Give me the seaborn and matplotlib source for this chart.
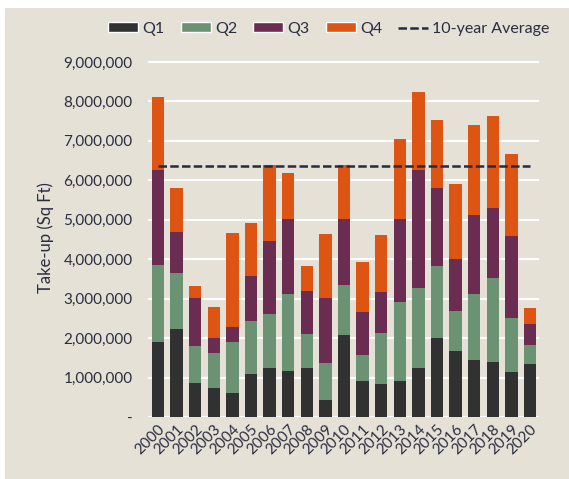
import matplotlib
matplotlib.use("Agg")
import matplotlib.pyplot as plt
from matplotlib.patches import Rectangle, Patch
from matplotlib.lines import Line2D
import seaborn as sns
import pandas as pd

# Take-up by quarter (sq ft)
years = [str(y) for y in range(2000, 2021)]
q1 = [1.91e6, 2.23e6, 0.87e6, 0.74e6, 0.62e6, 1.08e6, 1.23e6, 1.17e6, 1.25e6, 0.43e6, 2.09e6,
      0.92e6, 0.83e6, 0.92e6, 1.25e6, 1.99e6, 1.67e6, 1.45e6, 1.40e6, 1.14e6, 1.35e6]
q2 = [1.95e6, 1.43e6, 0.94e6, 0.89e6, 1.28e6, 1.36e6, 1.38e6, 1.96e6, 0.85e6, 0.93e6, 1.25e6,
      0.65e6, 1.29e6, 2.00e6, 2.03e6, 1.83e6, 1.02e6, 1.67e6, 2.12e6, 1.37e6, 0.48e6]
q3 = [2.39e6, 1.04e6, 1.20e6, 0.38e6, 0.37e6, 1.13e6, 1.86e6, 1.90e6, 1.09e6, 1.65e6, 1.68e6,
      1.10e6, 1.06e6, 2.09e6, 2.97e6, 1.99e6, 1.32e6, 2.01e6, 1.77e6, 2.09e6, 0.54e6]
q4 = [1.85e6, 1.10e6, 0.32e6, 0.79e6, 2.40e6, 1.35e6, 1.92e6, 1.16e6, 0.63e6, 1.64e6, 1.37e6,
      1.27e6, 1.43e6, 2.04e6, 1.98e6, 1.72e6, 1.90e6, 2.28e6, 2.34e6, 2.07e6, 0.40e6]
avg_10yr = 6.35e6

ytick_vals = list(range(0, 9000001, 1000000))
ytick_labels = ["-"] + [f"{v:,}" for v in ytick_vals[1:]]

colors = {"Q1": "#313131", "Q2": "#6B9273", "Q3": "#6A2C50", "Q4": "#DE5412"}
bg = "#E5E1D6"
text_col = "#2B2D3F"
avg_col = "#262A3E"

df = pd.DataFrame({"Year": years, "Q1": q1, "Q2": q2, "Q3": q3, "Q4": q4})
df["c2"] = df["Q1"] + df["Q2"]
df["c3"] = df["c2"] + df["Q3"]
df["c4"] = df["c3"] + df["Q4"]

sns.set_theme(style="whitegrid")
plt.rcParams["font.family"] = ["Lato", "DejaVu Sans"]
plt.rcParams["text.color"] = text_col

fig = plt.figure(figsize=(5.69, 4.79), dpi=100, facecolor=bg)
# thin white strips on the left and top edges
fig.add_artist(Rectangle((0, 0), 5 / 569, 1, transform=fig.transFigure,
                         facecolor="white", edgecolor="none", zorder=-10))
fig.add_artist(Rectangle((0, 1 - 8 / 479), 1, 8 / 479, transform=fig.transFigure,
                         facecolor="white", edgecolor="none", zorder=-10))
ax = fig.add_axes([148 / 569, 1 - 417 / 479, (539 - 148) / 569, (417 - 58) / 479])
ax.set_facecolor(bg)

# stacked bars: draw cumulative totals from top down
for col, q in [("c4", "Q4"), ("c3", "Q3"), ("c2", "Q2"), ("Q1", "Q1")]:
    sns.barplot(data=df, x="Year", y=col, color=colors[q], width=0.67,
                saturation=1, ax=ax, zorder=3, edgecolor="none")

ax.hlines(avg_10yr, 0, len(years) - 1, colors=avg_col, linestyles=(0, (3.4, 1.3)),
          linewidth=1.8, zorder=4)

ax.set_xlim(-0.54, len(years) - 0.52)
ax.set_ylim(0, 9.1e6)
ax.set_yticks(ytick_vals)
ax.set_yticklabels(ytick_labels)
ax.grid(axis="y", color="white", linewidth=1.5, zorder=0)
ax.grid(axis="x", visible=False)
for s in ax.spines.values():
    s.set_visible(False)

ax.tick_params(axis="y", length=0, pad=11, labelsize=11, labelcolor=text_col)
ax.tick_params(axis="x", length=0, pad=4, labelsize=11, labelcolor=text_col)
plt.setp(ax.get_xticklabels(), rotation=45, ha="right", rotation_mode="anchor")

ax.set_xlabel("")
ax.set_ylabel("Take-up (Sq Ft)", fontsize=12, color=text_col, labelpad=7)

handles = [Patch(facecolor=colors[q], label=q) for q in ["Q1", "Q2", "Q3", "Q4"]]
handles.append(Line2D([0], [0], color=avg_col, lw=1.8, linestyle=(0, (3.4, 1.3)),
                      label="10-year Average"))
fig.legend(handles=handles, loc="center", bbox_to_anchor=(329 / 569, 1 - 29 / 479),
           ncol=5, frameon=False, fontsize=11.5, handlelength=1.9, handleheight=0.6,
           handletextpad=0.25, columnspacing=1.0, labelcolor=text_col)

fig.savefig("out.png", dpi=100, facecolor=bg)
